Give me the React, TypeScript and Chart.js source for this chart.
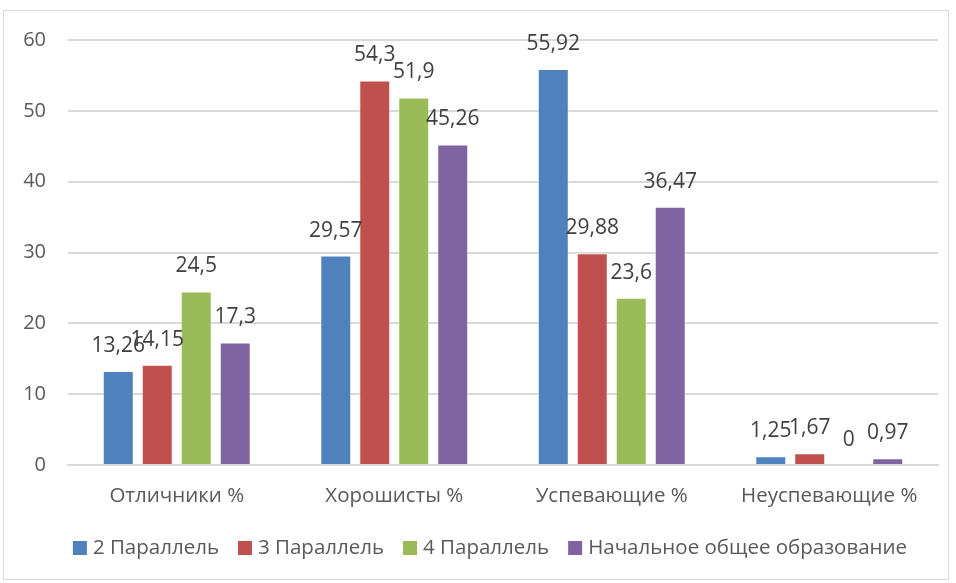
import React, { useEffect, useRef } from "react";
import { Chart, registerables } from "chart.js";

Chart.register(...registerables);

const categories = ["Отличники %", "Хорошисты %", "Успевающие %", "Неуспевающие %"];
const seriesNames = ["2 Параллель", "3 Параллель", "4 Параллель", "Начальное общее образование"];
const parallel2 = [13.26, 29.57, 55.92, 1.25];
const parallel3 = [14.15, 54.3, 29.88, 1.67];
const parallel4 = [24.5, 51.9, 23.6, 0];
const primaryTotal = [17.3, 45.26, 36.47, 0.97];
const yTicks = [0, 10, 20, 30, 40, 50, 60];

const colors = ["#4F81BD", "#C0504D", "#9BBB59", "#8064A2"];
const FONT = "'Open Sans', sans-serif";
const TEXT = "#595959";

const dataLabels = {
  id: "dataLabels",
  afterDatasetsDraw(chart: any) {
    const ctx = chart.ctx;
    ctx.save();
    ctx.font = `21px ${FONT}`;
    ctx.fillStyle = "#404040";
    ctx.textAlign = "center";
    ctx.textBaseline = "middle";
    chart.data.datasets.forEach((ds: any, di: number) => {
      const meta = chart.getDatasetMeta(di);
      meta.data.forEach((el: any, i: number) => {
        const v = ds.data[i];
        ctx.fillText(String(v).replace(".", ","), el.x, el.y - 25);
      });
    });
    ctx.restore();
  },
};

const bottomLegend = {
  id: "bottomLegend",
  afterDraw(chart: any) {
    const ctx = chart.ctx;
    ctx.save();
    ctx.font = `20.5px ${FONT}`;
    ctx.textBaseline = "middle";
    ctx.textAlign = "left";
    const box = 14, gap = 6, itemGap = 19;
    const items = chart.data.datasets.map((ds: any) => ({
      label: ds.label,
      color: ds.backgroundColor,
      w: box + gap + ctx.measureText(ds.label).width,
    }));
    const total = items.reduce((s: number, it: any) => s + it.w, 0) + itemGap * (items.length - 1);
    const cy = 548;
    let x = 490 - total / 2;
    items.forEach((it: any) => {
      ctx.fillStyle = it.color;
      ctx.fillRect(x, cy - box / 2, box, box);
      ctx.fillStyle = TEXT;
      ctx.fillText(it.label, x + box + gap, cy);
      x += it.w + itemGap;
    });
    ctx.restore();
  },
};

export default function App() {
  const ref = useRef<HTMLCanvasElement>(null);
  useEffect(() => {
    document.body.style.margin = "0";
    const all = [parallel2, parallel3, parallel4, primaryTotal];
    const chart = new Chart(ref.current!, {
      type: "bar",
      data: {
        labels: categories,
        datasets: all.map((d, i) => ({
          label: seriesNames[i],
          data: d,
          backgroundColor: colors[i],
          borderColor: "rgba(255,255,255,0.6)",
          borderWidth: 1,
          categoryPercentage: 0.717,
          barPercentage: 0.795,
        })),
      },
      options: {
        animation: false,
        responsive: false,
        maintainAspectRatio: false,
        layout: { padding: { top: 40, right: 18, left: 0, bottom: 63 } },
        scales: {
          x: {
            grid: { display: false, drawTicks: false },
            border: { color: "#D9D9D9", width: 2 },
            ticks: { color: TEXT, font: { family: FONT, size: 20.5 }, padding: 19 },
            afterFit: (s: any) => { s.height = 55; },
          },
          y: {
            min: 0,
            max: 60,
            afterBuildTicks: (s: any) => { s.ticks = yTicks.map((v) => ({ value: v })); },
            grid: { color: "#D9D9D9", lineWidth: 2, drawTicks: false },
            border: { display: false },
            ticks: { color: TEXT, font: { family: FONT, size: 20 }, padding: 22 },
            afterFit: (s: any) => { s.width = 68; },
          },
        },
        plugins: {
          legend: { display: false },
          tooltip: { enabled: false },
        },
      },
      plugins: [dataLabels, bottomLegend],
    });
    return () => chart.destroy();
  }, []);
  return (
    <div style={{ position: "relative", width: 956, height: 583, background: "#fff" }}>
      <div style={{ position: "absolute", left: 3, top: 10, width: 946, height: 570, border: "1px solid #D9D9D9", boxSizing: "border-box" }} />
      <canvas ref={ref} width={956} height={583} style={{ position: "absolute", left: 0, top: 0 }} />
    </div>
  );
}
